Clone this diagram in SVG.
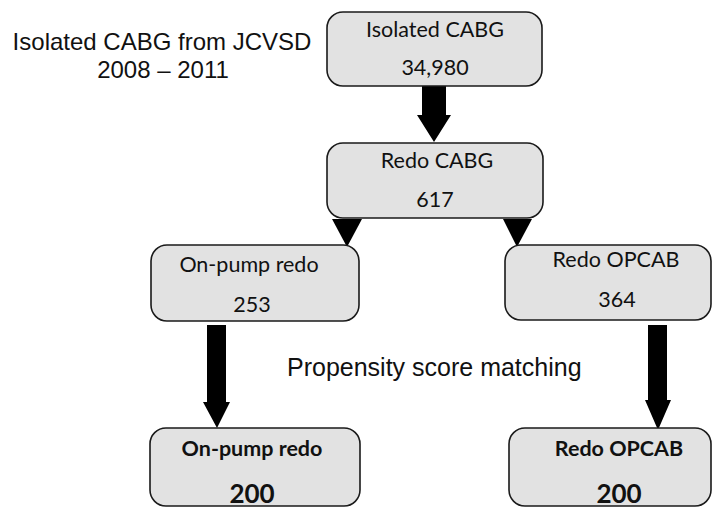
<svg xmlns="http://www.w3.org/2000/svg" width="712" height="510" viewBox="0 0 712 510">
<style>
.box{fill:#e2e2e2;stroke:#1a1a1a;stroke-width:1.6}
.t{font-family:Lato,"Open Sans",sans-serif;font-size:21.5px;fill:#111;text-anchor:middle}
.b{font-weight:bold}
.n{font-size:26px}
.a{font-family:"Liberation Sans",Arial,sans-serif;fill:#111}
.arr{fill:#000}
</style>
<rect width="712" height="510" fill="#fff"/>
<text class="a" x="162" y="50" font-size="24" text-anchor="middle">Isolated CABG from JCVSD</text>
<text class="a" x="163" y="78" font-size="24" text-anchor="middle">2008 – 2011</text>
<text class="a" x="287" y="376" font-size="25">Propensity score matching</text>
<g id="connectors">
<polygon class="arr" points="422,86 446,86 446,115 451,115 434,142 417,115 422,115"/>
<polygon class="arr" points="332,219 362,219 347,247"/>
<polygon class="arr" points="503,219 532,219 517,247"/>
<polygon class="arr" points="207,325 226,325 226,402 230,402 217,428 203,402 207,402"/>
<polygon class="arr" points="648,325 667,325 667,400 671,400 658,430 645,400 648,400"/>
</g>
<g id="isolated">
<rect class="box" x="327" y="12" width="215" height="74" rx="16"/>
<text class="t" x="435" y="37">Isolated CABG</text>
<text class="t" x="435" y="75">34,980</text>
</g>
<g id="redo">
<rect class="box" x="327" y="143" width="216" height="75" rx="16"/>
<text class="t" x="437" y="168">Redo CABG</text>
<text class="t" x="435" y="207">617</text>
</g>
<g id="onpump">
<rect class="box" x="151" y="245" width="208" height="76" rx="16"/>
<text class="t" x="249" y="272">On-pump redo</text>
<text class="t" x="252" y="312">253</text>
</g>
<g id="opcab">
<rect class="box" x="505" y="245" width="206" height="75" rx="16"/>
<text class="t" x="616" y="267">Redo OPCAB</text>
<text class="t" x="617" y="307">364</text>
</g>
<g id="onpump-matched">
<rect class="box" x="150" y="428" width="210" height="78" rx="16"/>
<text class="t b" x="252" y="456">On-pump  redo</text>
<text class="t b n" x="252" y="503">200</text>
</g>
<g id="opcab-matched">
<rect class="box" x="509" y="428" width="202" height="78" rx="16"/>
<text class="t b" x="619" y="456">Redo OPCAB</text>
<text class="t b n" x="619" y="503">200</text>
</g>
</svg>
